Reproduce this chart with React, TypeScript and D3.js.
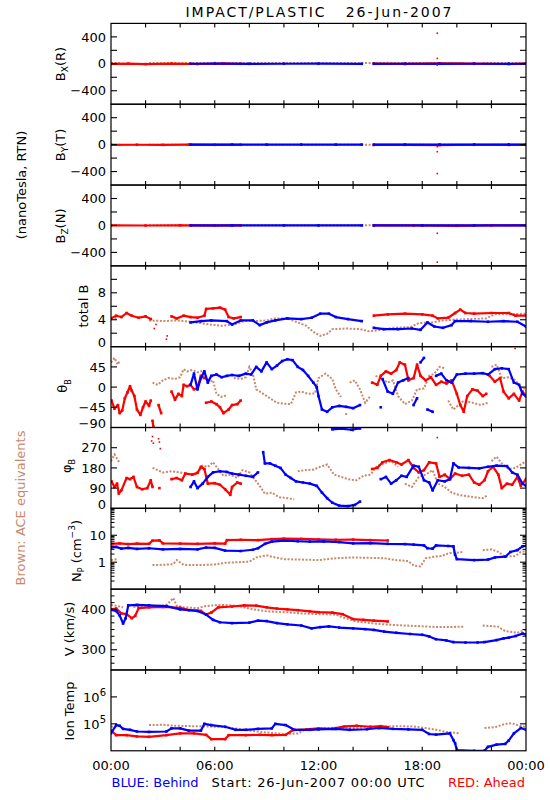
import React from 'react';
import * as d3 from 'd3';

type P = [number, number] | null;

const RED = '#ff0000';
const BLUE = '#0000ff';
const BROWN = '#c8896b';
const FONT = 'DejaVu Sans, sans-serif';

// ---------- axis ticks / labels ----------
const xTickHours = [0, 2, 4, 6, 8, 10, 12, 14, 16, 18, 20, 22, 24];
const xLabelHours = [0, 6, 12, 18, 24];
const xLabelTexts = ['00:00', '06:00', '12:00', '18:00', '00:00'];

// ---------- B components (nT, RTN) ----------
const bxRed: P[] = [[0, -2], [1, 3], [2, -4], [3.5, 2], [5, -3], [6.5, 4], [7.5, 1], null, [15.2, 4], [17, -2], [19, 5], [21, 2], [23, -3], [24, 3]];
const bxBlue: P[] = [[4.6, 1], [6, 2], [8, 0], [10, 1], [12, 2], [14.5, 0], null, [15.2, 0], [17, 1], [19, 0], [21, 1], [23, 0], [24, 1]];
const bxBrown: P[] = [[0, 12], [0.5, 14], null, [2.2, 12], [4, 10], [6, 14], [8, 12], [10, 13], [12, 11], [14, 12], [16, 14], [18, 12], [20.4, 13], null, [21.5, 12], [24, 13]];
const bxDots: P[] = [[18.87, 455], [18.87, 80], [18.87, -20]];

const byRed: P[] = [[0, -3], [1.5, -2], [3, -4], [4.5, -1], [6, -3], [7.5, -2], null, [15.2, -5], [17, -3], [19, -6], [21, -2], [23, -4], [24, -3]];
const byBlue: P[] = [[4.6, 0], [7, 1], [9, 0], [11, 1], [13, 0], [14.5, 1], null, [15.2, 0], [17, 0], [19, 1], [21, 0], [23, 1], [24, 0]];
const byBrown: P[] = [[0, -2], [0.5, -1], null, [2.2, -2], [5, -1], [8, -2], [11, -1], [14, -2], [17, -1], [20.4, -3], null, [21.5, -4], [24, -2]];
const byDots: P[] = [[18.87, -30], [18.87, -105], [18.87, -430]];

const bzRed: P[] = [[0, 1], [2, -1], [4, 2], [6, -2], [7.5, 1], null, [15.2, 2], [17.5, -1], [20, -6], [22, 1], [24, 2]];
const bzBlue: P[] = [[4.6, 0], [7, 0], [10, 1], [12, 0], [14.5, 0], null, [15.2, 0], [18, 1], [21, 0], [24, 0]];
const bzBrown: P[] = [[0, 3], [0.5, 2], null, [2.2, 3], [6, 2], [10, 3], [14, 2], [18, 3], [20.4, 2], null, [21.5, 3], [24, 2]];
const bzDots: P[] = [[18.87, -117], [18.87, -545]];

// ---------- total B (nT) ----------
const totalBRed: P[] = [[0, 4.2], [0.3, 4.6], [0.6, 4.4], [0.9, 5.0], [1.2, 4.6], [1.6, 4.3], [2.0, 4.5], [2.3, 4.1], null,
  [3.5, 4.5], [3.8, 4.2], [4.2, 4.6], [4.6, 4.4], [5.0, 4.3], [5.4, 4.6], [5.5, 5.6], [5.9, 5.7], [6.3, 5.8], [6.6, 5.5], [6.8, 4.4], [7.1, 4.2], [7.5, 4.4], null,
  [15.2, 4.6], [16.0, 4.8], [17.0, 4.9], [18.0, 4.8], [18.6, 4.6], [18.9, 4.2], [19.5, 4.3], [19.9, 5.0], [20.2, 5.5], [20.5, 5.0], [21.0, 4.9], [22.0, 5.0], [23.0, 5.0], [23.4, 4.6], [24, 4.6]];
const totalBRedDots: P[] = [[2.5, 2.7], [2.6, 3.3], [3.2, 1.1], [3.25, 1.6]];
const totalBBlue: P[] = [[4.6, 3.6], [5.2, 3.8], [5.8, 3.9], [6.7, 3.8], [7.0, 3.3], [7.5, 3.9], [8.2, 3.9], [8.6, 3.2], [9.0, 3.6], [9.5, 3.9], [10.2, 4.2], [11.0, 4.1], [11.6, 4.3], [12.1, 4.9], [12.6, 4.9], [13.0, 4.4], [13.7, 4.1], [14.5, 3.8], null,
  [15.2, 2.8], [15.8, 2.6], [16.6, 2.6], [17.4, 2.7], [17.9, 2.5], [18.3, 3.6], [18.7, 3.0], [19.2, 2.8], [19.7, 3.2], [19.9, 3.8], [20.8, 3.8], [21.8, 3.7], [22.7, 3.8], [23.5, 3.7], [24, 3.0]];
const totalBBrown: P[] = [[0, 4.3], [0.4, 4.2], null, [2.2, 3.9], [3.0, 3.8], [3.8, 3.9], [4.6, 3.7], [5.2, 3.5], [5.7, 3.3], [6.4, 3.1], [7.1, 3.3], [7.7, 3.8], [8.4, 3.8], [9.0, 3.9], [9.5, 4.2], [10.2, 4.2], [10.8, 3.6], [11.3, 3.1], [11.7, 2.2], [12.1, 1.6], [12.5, 1.9], [12.8, 2.6], [13.6, 2.7], [14.4, 2.6], [14.9, 2.3], [15.4, 2.4], [16.3, 2.8], [17.3, 2.9], [17.8, 3.5], [18.6, 3.6], [19.2, 3.9], [19.8, 4.0], [20.7, 4.1], [21.7, 4.2], [22.2, 4.8], [23.0, 4.8], [24, 4.9]];

// ---------- theta_B (deg) ----------
const thetaRed: P[] = [[0.03, -30], [0.2, -48], [0.4, -40], [0.5, -58], [0.65, -52], [0.8, -25], [0.95, -12], [1.1, 2], [1.2, -8], [1.35, -20], [1.5, -50], [1.7, -62], [1.85, -45], [2.0, -32], [2.2, -42], [2.3, -30], null,
  [2.4, -75], [2.45, -88], null, [2.75, -40], [2.9, -58], null,
  [3.5, -10], [3.7, -28], [3.9, -15], [4.1, -20], [4.2, 5], [4.4, 2], [4.6, 5], [4.8, -5], [5.0, -2], [5.2, 25], [5.4, 20], [5.5, -35], [5.8, -32], [6.1, -38], [6.3, -45], [6.5, -58], [6.8, -50], [7.0, -40], [7.3, -38], [7.5, -30], null,
  [15.1, 10], [15.4, 5], [15.6, 25], [15.9, 35], [16.2, 30], [16.5, 38], [16.7, 55], [17.0, 50], [17.2, 15], [17.5, 20], [17.7, 50], [17.9, 25], [18.2, 15], [18.5, 22], [18.8, 5], [19.1, 12], [19.4, 8], [19.7, 15], [20.0, -15], [20.2, -40], [20.4, -55], [20.6, -20], [20.9, -5], [21.2, -8], [21.5, -20], [21.7, -15], [21.9, 25], [22.2, 12], [22.5, 20], [22.7, -10], [23.0, -25], [23.3, -15], [23.6, -30], [23.8, -10], [24, -20]];
const thetaRedDots: P[] = [[23.37, 86]];
const thetaBlue: P[] = [[4.6, 5], [4.8, 30], [5.0, -5], [5.2, 20], [5.4, 35], [5.6, 10], [5.8, 25], [6.1, 28], [6.4, 22], [6.7, 25], [7.0, 27], [7.4, 25], [7.8, 30], [8.1, 28], [8.4, 45], [8.7, 35], [9.0, 55], [9.3, 40], [9.6, 48], [9.9, 58], [10.2, 62], [10.5, 60], [10.8, 45], [11.1, 38], [11.4, 25], [11.7, 10], [11.9, 0], [12.0, -20], [12.2, -50], [12.5, -55], [12.8, -45], [13.2, -42], [13.6, -44], [14.0, -47], [14.4, -40], null,
  [15.6, -45], [15.7, 18], [16.0, -10], [16.3, -15], [16.6, 10], [16.9, 15], [17.2, 20], [17.5, -40], [17.7, -25], [17.9, 55], [18.1, 65], [18.3, -50], [18.6, -55], [18.8, 25], [19.1, 30], [19.4, 15], [19.7, 10], [20.0, 28], [20.5, 30], [21.0, 30], [21.5, 31], [21.8, 28], [22.2, 40], [22.6, 42], [23.0, 40], [23.3, 10], [23.6, 5], [23.8, -15], [24, -20]];
const thetaBrown: P[] = [[0.0, 55], [0.2, 65], [0.4, 50], [0.5, 60], null,
  [2.4, 10], [2.7, 5], [3.0, 15], [3.3, 20], [3.7, 18], [4.0, 22], [4.2, 40], [4.4, 35], [4.7, 38], [5.0, 33], [5.3, 36], [5.6, 10], [5.9, 15], [6.1, -15], [6.4, -22], [6.7, -18], [7.1, 20], [7.5, 18], [7.8, 22], [8.0, 45], [8.2, 30], [8.4, -5], [8.8, -15], [9.2, -25], [9.6, -35], [10.0, -37], [10.4, -38], [10.7, -12], [11.0, -10], [11.4, -15], [11.8, -14], [12.0, 20], [12.4, 30], [12.8, 18], [13.0, -5], [13.3, -22], [13.6, -60], [13.8, 10], [14.1, 15], [14.4, -5], [14.7, -35], [15.0, -20], [15.3, 25], [15.6, 20], [16.0, 10], [16.3, 15], [16.6, -20], [17.0, -38], [17.4, -30], [17.7, -5], [18.1, -3], [18.4, 25], [18.7, 30], [19.0, 45], [19.3, 42], [19.5, -30], [19.8, -50], [20.1, -40], [20.4, -30], [20.9, -35], [21.4, -40], [21.8, -35], [22.0, 45], [22.3, 50], [22.6, 20], [23.0, 22], [23.4, 15], [23.8, -5], [24, 0]];

// ---------- phi_B (deg) ----------
const phiRed: P[] = [[0.03, 120], [0.2, 95], [0.35, 110], [0.45, 66], [0.6, 80], [0.9, 135], [1.1, 130], [1.3, 140], [1.5, 95], [1.8, 85], [2.1, 90], [2.3, 125], [2.4, 95], null, [2.8, 90], null,
  [3.5, 130], [3.8, 135], [4.1, 125], [4.3, 155], [4.7, 150], [5.0, 158], [5.2, 185], [5.4, 175], [5.6, 110], [6.0, 112], [6.3, 105], [6.6, 85], [6.9, 60], [7.0, 95], [7.3, 115], [7.5, 110], null,
  [15.1, 175], [15.4, 180], [15.7, 205], [16.1, 215], [16.5, 205], [16.8, 195], [17.2, 215], [17.5, 180], [17.8, 160], [18.1, 170], [18.4, 205], [18.8, 200], [19.0, 140], [19.3, 150], [19.6, 130], [19.9, 155], [20.3, 145], [20.7, 150], [21.0, 115], [21.3, 105], [21.6, 125], [21.8, 165], [22.1, 185], [22.4, 150], [22.6, 90], [22.9, 110], [23.2, 105], [23.5, 140], [23.7, 100], [24, 130]];
const phiRedDots: P[] = [[2.35, 300], [2.4, 320], [2.45, 290], [2.75, 310], [2.8, 295], [2.85, 266], [18.87, 315]];
const phiBlue: P[] = [[4.6, 95], [4.8, 120], [5.0, 90], [5.3, 110], [5.6, 140], [5.9, 160], [6.3, 165], [6.7, 162], [7.0, 155], [7.4, 150], [7.8, 145], [8.2, 140], [8.5, 160], [8.8, 250], [8.9, 200], [9.2, 200], [9.5, 190], [9.8, 180], [10.1, 150], [10.4, 135], [10.7, 120], [11.1, 115], [11.5, 110], [11.9, 100], [12.2, 70], [12.5, 45], [12.8, 25], [13.2, 12], [13.7, 10], [14.1, 15], [14.4, 30], null,
  [15.6, 130], [15.9, 140], [16.2, 110], [16.5, 125], [16.8, 145], [17.1, 140], [17.5, 190], [17.8, 185], [18.1, 125], [18.4, 115], [18.6, 80], [18.9, 125], [19.3, 120], [19.6, 130], [19.8, 200], [20.1, 182], [20.7, 180], [21.3, 178], [21.8, 185], [22.3, 190], [22.9, 188], [23.2, 160], [23.5, 150], [23.8, 110], [24, 100]];
const phiBlueWrap: P[] = [[12.8, 352], [13.3, 355], [13.9, 350], [14.4, 356]];
const phiBrown: P[] = [[0.0, 210], [0.2, 240], [0.4, 215], [0.5, 200], null,
  [2.4, 180], [2.7, 170], [3.0, 160], [3.5, 165], [4.0, 160], [4.6, 150], [5.0, 155], [5.3, 190], [5.6, 185], [5.9, 205], [6.2, 175], [6.5, 145], [6.9, 150], [7.3, 135], [7.6, 170], [8.0, 160], [8.3, 130], [8.6, 100], [8.9, 65], [9.3, 70], [9.7, 50], [10.2, 45], [10.6, 40], [10.8, 165], [11.2, 170], [11.7, 172], [12.1, 185], [12.5, 195], [12.9, 150], [13.3, 140], [13.7, 130], [14.2, 125], [14.6, 145], [15.0, 150], [15.4, 190], [15.8, 200], [16.2, 210], [16.6, 185], [17.0, 110], [17.4, 95], [17.8, 140], [18.2, 150], [18.6, 170], [18.9, 110], [19.3, 95], [19.7, 70], [20.1, 60], [20.5, 55], [21.0, 50], [21.5, 45], [21.8, 60], [22.0, 210], [22.3, 230], [22.6, 200], [23.0, 175], [23.4, 180], [23.8, 200], [24, 210]];

// ---------- proton density (cm^-3) ----------
const npRed: P[] = [[0, 4.8], [0.5, 5.0], [1.0, 4.7], [1.5, 4.9], [2.2, 4.8], [2.4, 6.3], [2.8, 6.5], [3.0, 5.0], [4.0, 4.9], [5.0, 4.8], [6.0, 5.0], [6.6, 4.9], [6.7, 6.6], [7.5, 6.8], [8.5, 6.6], [9.3, 7.2], [10.0, 7.5], [11.0, 7.3], [12.0, 7.0], [13.0, 6.8], [14.0, 6.9], [15.0, 6.6], [16.0, 6.4]];
const npBlue: P[] = [[0, 3.5], [0.3, 3.7], [0.6, 3.2], [1.0, 3.4], [1.5, 3.1], [2.2, 3.3], [3.0, 3.0], [4.0, 3.1], [5.0, 3.0], [5.5, 3.5], [6.0, 3.4], [6.6, 2.7], [7.5, 2.6], [8.2, 2.9], [8.5, 3.3], [8.9, 4.8], [9.3, 5.8], [10.0, 6.3], [10.8, 6.0], [11.5, 5.8], [12.3, 5.9], [13.2, 5.6], [14.0, 5.0], [15.0, 5.1], [16.0, 4.8], [17.0, 4.7], [17.5, 4.5], [18.1, 4.2], [18.3, 3.3], [18.6, 3.2], [18.8, 4.2], [19.5, 4.0], [19.8, 3.9], [19.9, 1.9], [20.0, 1.3], [21.0, 1.2], [21.8, 1.25], [22.2, 1.5], [22.8, 1.6], [23.1, 2.4], [23.5, 2.8], [23.8, 3.9], [24, 4.0]];
const npBrown: P[] = [[0, 1.2], [0.4, 1.3], null, [2.4, 0.78], [3.0, 0.8], [3.6, 0.85], [3.8, 1.2], [4.2, 0.8], [5.0, 0.78], [6.0, 0.82], [6.6, 0.95], [7.4, 1.0], [8.0, 1.05], [8.4, 1.5], [9.0, 1.8], [9.3, 1.6], [10.0, 1.3], [11.0, 1.25], [12.0, 1.2], [13.0, 1.4], [14.0, 1.5], [15.0, 1.45], [15.8, 1.4], [16.5, 1.2], [17.2, 1.1], [17.5, 0.75], [17.9, 0.7], [18.2, 1.4], [18.7, 1.6], [19.1, 1.7], [19.6, 2.2], [20.2, 2.3], [20.4, 2.5], null, [21.5, 2.8], [22.0, 3.0], [22.4, 2.4], [22.8, 1.6], [23.4, 1.7], [23.7, 2.4], [24, 2.6]];

// ---------- bulk speed (km/s) ----------
const vRed: P[] = [[0, 400], [0.3, 402], [0.6, 390], [0.9, 388], [1.2, 378], [1.4, 384], [1.6, 403], [2.2, 405], [3.0, 406], [4.0, 404], [4.5, 398], [5.2, 396], [5.5, 387], [5.8, 392], [6.2, 405], [7.0, 407], [7.7, 410], [8.4, 409], [9.0, 405], [9.6, 402], [10.2, 400], [10.8, 398], [11.5, 395], [12.0, 393], [12.8, 392], [13.4, 388], [14.0, 376], [14.6, 374], [15.2, 372], [16.0, 370]];
const vBlue: P[] = [[0, 399], [0.3, 396], [0.5, 385], [0.7, 365], [0.85, 378], [1.0, 410], [1.5, 411], [2.2, 410], [3.2, 408], [4.0, 400], [5.0, 396], [5.5, 387], [5.9, 374], [6.3, 368], [7.0, 366], [8.0, 367], [8.5, 372], [9.0, 371], [9.6, 366], [10.2, 363], [11.0, 360], [11.6, 353], [12.1, 356], [12.6, 358], [13.2, 355], [14.0, 353], [14.7, 351], [15.2, 349], [15.8, 345], [16.5, 342], [17.3, 339], [18.0, 337], [18.4, 333], [18.8, 326], [19.4, 323], [19.8, 319], [20.5, 318], [21.2, 318], [21.6, 319], [22.3, 324], [22.7, 328], [23.0, 330], [23.4, 334], [23.8, 340], [24, 338]];
const vBrown: P[] = [[0, 411], [0.4, 408], [0.7, 405], null, [1.3, 406], [2.2, 407], [3.2, 410], [3.6, 428], [3.8, 409], [4.2, 405], [5.0, 403], [5.5, 408], [6.2, 411], [7.0, 410], [7.6, 406], [8.2, 400], [9.0, 395], [10.1, 393], [11.0, 390], [12.0, 388], [13.0, 387], [13.4, 380], [14.2, 370], [15.0, 366], [16.0, 362], [17.0, 360], [18.0, 358], [19.0, 356], [20.4, 357], null, [21.5, 360], [22.4, 357], [22.8, 346], [23.5, 342], [24, 350]];

// ---------- ion temperature (K) ----------
const tRed: P[] = [[0, 5.6e4], [0.3, 3.8e4], [0.9, 3.8e4], [1.5, 3.4e4], [2.2, 3.3e4], [3.2, 3.8e4], [4.0, 4.4e4], [4.8, 4.4e4], [5.5, 3.9e4], [5.8, 2.7e4], [6.6, 2.7e4], [6.8, 3.8e4], [7.8, 3.8e4], [8.6, 3.9e4], [9.3, 3.8e4], [10.1, 3.9e4], [10.5, 5.8e4], [11.3, 6.2e4], [12.0, 6.8e4], [12.8, 6.5e4], [13.5, 8.0e4], [14.2, 8.5e4], [15.0, 7.8e4], [15.6, 8.2e4], [16.0, 7.5e4]];
const tBlue: P[] = [[0, 4.5e4], [0.3, 9e4], [0.5, 8.5e4], [0.7, 6.5e4], [1.1, 6e4], [1.5, 5.2e4], [2.2, 5e4], [3.2, 5.2e4], [3.5, 6.8e4], [4.0, 6.8e4], [4.5, 5.6e4], [5.2, 5.6e4], [5.4, 1e5], [5.8, 9e4], [6.6, 7.8e4], [7.2, 6e4], [7.8, 6e4], [8.5, 6.5e4], [9.3, 6.8e4], [9.5, 1e5], [10.1, 9e4], [10.6, 6e4], [11.5, 6e4], [12.0, 6.2e4], [13.0, 6.5e4], [13.8, 6e4], [14.8, 6.3e4], [15.5, 7e4], [16.3, 6.5e4], [17.2, 6.2e4], [18.0, 6e4], [18.4, 4.2e4], [18.8, 4e4], [19.6, 4.4e4], [19.8, 2.5e4], [19.9, 1.9e4], [20.0, 1.05e4], [21.0, 1.0e4], [21.6, 1.0e4], [21.8, 1.4e4], [22.3, 1.7e4], [22.8, 1.8e4], [23.0, 2.4e4], [23.3, 4.4e4], [23.7, 7e4], [24, 6e4]];
const tBrown: P[] = [[0, 8e4], [0.3, 7.5e4], null, [2.2, 9e4], [3.0, 9.2e4], [3.7, 8.5e4], [4.7, 8.2e4], [5.6, 8e4], [6.6, 7.5e4], [7.2, 6.7e4], [7.8, 6e4], [8.6, 5e4], [9.3, 4.6e4], [10.0, 4.2e4], [10.8, 4.4e4], [11.2, 6e4], [11.8, 6.5e4], [12.5, 7e4], [13.2, 7.2e4], [14.0, 7e4], [15.0, 7.5e4], [15.8, 8e4], [16.8, 8.2e4], [17.6, 7.8e4], [18.2, 7e4], [18.8, 6e4], [19.4, 5e4], [20.1, 4.5e4], null, [21.6, 7e4], [22.2, 7.5e4], [22.8, 1e5], [23.2, 1.05e5], [23.6, 8.5e4], [24, 7.5e4]];

// ---------- layout ----------
const W = 550, HGT = 800;
const L = 111, R = 526;
const TOP = 23.4, PH = 80.82;
const MAX_JUMP = 16; // px: larger jumps between samples are left unconnected (scatter look)
const x = d3.scaleLinear().domain([0, 24]).range([L, R]);

type Series = { data: P[]; color: string; kind: 'line' | 'brown' | 'dots' };
type Panel = {
  domain: [number, number];
  log?: boolean;
  majors: number[];
  minors: number[];
  labels: { v: number; t: React.ReactNode }[];
  series: Series[];
};

const sixths = d3.range(-8, 3).map(k => 400 + (k * 100) / 6).filter(v => Math.abs(v - 300) > 1 && Math.abs(v - 400) > 1);
const logMinors = (decades: number[]) => decades.flatMap(d => d3.range(2, 10).map(k => k * d));

const panels: Panel[] = [
  { domain: [-600, 600], majors: [-400, -200, 0, 200, 400], minors: [], labels: [{ v: 400, t: '400' }, { v: 0, t: '0' }, { v: -400, t: '\u2212400' }],
    series: [{ data: bxBrown, color: BROWN, kind: 'brown' }, { data: bxRed, color: RED, kind: 'line' }, { data: bxBlue, color: BLUE, kind: 'line' }, { data: bxDots, color: RED, kind: 'dots' }] },
  { domain: [-600, 600], majors: [-400, -200, 0, 200, 400], minors: [], labels: [{ v: 400, t: '400' }, { v: 0, t: '0' }, { v: -400, t: '\u2212400' }],
    series: [{ data: byBrown, color: BROWN, kind: 'brown' }, { data: byRed, color: RED, kind: 'line' }, { data: byBlue, color: BLUE, kind: 'line' }, { data: byDots, color: RED, kind: 'dots' }] },
  { domain: [-600, 600], majors: [-400, -200, 0, 200, 400], minors: [], labels: [{ v: 400, t: '400' }, { v: 0, t: '0' }, { v: -400, t: '\u2212400' }],
    series: [{ data: bzBrown, color: BROWN, kind: 'brown' }, { data: bzRed, color: RED, kind: 'line' }, { data: bzBlue, color: BLUE, kind: 'line' }, { data: bzDots, color: RED, kind: 'dots' }] },
  { domain: [0, 12], majors: [2, 4, 6, 8, 10], minors: [], labels: [{ v: 8, t: '8' }, { v: 4, t: '4' }, { v: 0, t: '0' }],
    series: [{ data: totalBBrown, color: BROWN, kind: 'brown' }, { data: totalBRed, color: RED, kind: 'line' }, { data: totalBBlue, color: BLUE, kind: 'line' }, { data: totalBRedDots, color: RED, kind: 'dots' }] },
  { domain: [-90, 90], majors: [-45, 0, 45], minors: [], labels: [{ v: 45, t: '45' }, { v: 0, t: '0' }, { v: -45, t: '\u221245' }, { v: -90, t: '\u221290' }],
    series: [{ data: thetaBrown, color: BROWN, kind: 'brown' }, { data: thetaRed, color: RED, kind: 'line' }, { data: thetaBlue, color: BLUE, kind: 'line' }, { data: thetaRedDots, color: RED, kind: 'dots' }] },
  { domain: [0, 360], majors: [90, 180, 270], minors: [], labels: [{ v: 270, t: '270' }, { v: 180, t: '180' }, { v: 90, t: '90' }, { v: 0, t: '0' }],
    series: [{ data: phiBrown, color: BROWN, kind: 'brown' }, { data: phiRed, color: RED, kind: 'line' }, { data: phiBlue, color: BLUE, kind: 'line' }, { data: phiBlueWrap, color: BLUE, kind: 'line' }, { data: phiRedDots, color: RED, kind: 'dots' }] },
  { domain: [0.1, 100], log: true, majors: [1, 10], minors: logMinors([0.1, 1, 10]), labels: [{ v: 10, t: '10' }, { v: 1, t: '1' }],
    series: [{ data: npBrown, color: BROWN, kind: 'brown' }, { data: npRed, color: RED, kind: 'line' }, { data: npBlue, color: BLUE, kind: 'line' }] },
  { domain: [250, 450], majors: [300, 400], minors: sixths, labels: [{ v: 400, t: '400' }, { v: 300, t: '300' }],
    series: [{ data: vBrown, color: BROWN, kind: 'brown' }, { data: vRed, color: RED, kind: 'line' }, { data: vBlue, color: BLUE, kind: 'line' }] },
  { domain: [1e4, 1e7], log: true, majors: [1e5, 1e6], minors: [],
    labels: [{ v: 1e6, t: <>10<tspan dy={-6} fontSize={10}>6</tspan></> }, { v: 1e5, t: <>10<tspan dy={-6} fontSize={10}>5</tspan></> }],
    series: [{ data: tBrown, color: BROWN, kind: 'brown' }, { data: tRed, color: RED, kind: 'line' }, { data: tBlue, color: BLUE, kind: 'line' }] },
];

const yLabels: React.ReactNode[] = [
  <text key="l0" transform="translate(65,64) rotate(-90)" textAnchor="middle">B<tspan fontSize={9} dy={3}>X</tspan><tspan dy={-3}>(R)</tspan></text>,
  <text key="l1" transform="translate(65,145) rotate(-90)" textAnchor="middle">B<tspan fontSize={9} dy={3}>Y</tspan><tspan dy={-3}>(T)</tspan></text>,
  <text key="l2" transform="translate(65,226) rotate(-90)" textAnchor="middle">B<tspan fontSize={9} dy={3}>Z</tspan><tspan dy={-3}>(N)</tspan></text>,
  <text key="l3" transform="translate(88,306) rotate(-90)" textAnchor="middle">total B</text>,
  <text key="l4" transform="translate(67,386) rotate(-90)" textAnchor="middle">{'\u03b8'}<tspan fontSize={8} dy={4}>B</tspan></text>,
  <text key="l5" transform="translate(71,466) rotate(-90)" textAnchor="middle">{'\u03c6'}<tspan fontSize={8} dy={4}>B</tspan></text>,
  <text key="l6" transform="translate(81,551) rotate(-90)" textAnchor="middle">N<tspan fontSize={8} dy={3}>P</tspan><tspan dy={-3}> (cm</tspan><tspan fontSize={9} dy={-6}>{'\u22123'}</tspan><tspan dy={6}>)</tspan></text>,
  <text key="l7" transform="translate(74,629) rotate(-90)" textAnchor="middle">V (km/s)</text>,
  <text key="l8" transform="translate(74,711) rotate(-90)" textAnchor="middle">Ion Temp</text>,
];

// split a series into connected runs: break at nulls and at big vertical jumps
function runs(data: P[], y: (v: number) => number): [number, number][][] {
  const out: [number, number][][] = [];
  let cur: [number, number][] = [];
  for (const d of data) {
    if (d === null) { if (cur.length) out.push(cur); cur = []; continue; }
    const pt: [number, number] = [x(d[0]), y(d[1])];
    if (cur.length && Math.abs(pt[1] - cur[cur.length - 1][1]) > MAX_JUMP) { out.push(cur); cur = []; }
    cur.push(pt);
  }
  if (cur.length) out.push(cur);
  return out;
}

const pxLine = d3.line<[number, number]>().x(d => d[0]).y(d => d[1]);

function PanelView({ p, i }: { p: Panel; i: number }) {
  const top = TOP + i * PH;
  const bot = top + PH;
  const y = p.log
    ? d3.scaleLog().domain(p.domain).range([bot, top])
    : d3.scaleLinear().domain(p.domain).range([bot, top]);
  const clipId = `clip${i}`;
  return (
    <g>
      <defs>
        <clipPath id={clipId}><rect x={L} y={top} width={R - L} height={PH} /></clipPath>
      </defs>
      <g clipPath={`url(#${clipId})`}>
        {p.series.map((s, k) => {
          if (s.kind === 'dots') {
            return <g key={k}>{s.data.filter(d => d).map((d, j) => <rect key={j} x={x(d![0]) - 0.8} y={y(d![1]) - 0.8} width={1.6} height={1.6} fill={s.color} />)}</g>;
          }
          const rs = runs(s.data, y);
          if (s.kind === 'brown') {
            return (
              <g key={k}>
                {rs.map((r, j) => r.length > 1
                  ? <path key={j} d={pxLine(r) || ''} fill="none" stroke={s.color} strokeWidth={2} strokeDasharray="2 1.6" />
                  : <rect key={j} x={r[0][0] - 1} y={r[0][1] - 1} width={2} height={2} fill={s.color} />)}
              </g>
            );
          }
          return (
            <g key={k}>
              {rs.map((r, j) => r.length > 1
                ? <path key={j} d={pxLine(r) || ''} fill="none" stroke={s.color} strokeWidth={2.2} strokeLinejoin="round" />
                : null)}
              {s.data.filter(d => d).map((d, j) => <rect key={'p' + j} x={x(d![0]) - 1.3} y={y(d![1]) - 1.3} width={2.6} height={2.6} fill={s.color} />)}
            </g>
          );
        })}
      </g>
      <rect x={L} y={top} width={R - L} height={PH} fill="none" stroke="#000" strokeWidth={1.2} />
      {xTickHours.slice(1, -1).map(h => (
        <g key={h}>
          <line x1={x(h)} x2={x(h)} y1={top} y2={top + 4} stroke="#000" strokeWidth={1.1} />
          <line x1={x(h)} x2={x(h)} y1={bot} y2={bot - 4} stroke="#000" strokeWidth={1.1} />
        </g>
      ))}
      {p.majors.map(v => (
        <g key={'M' + v}>
          <line x1={L} x2={L + 6} y1={y(v)} y2={y(v)} stroke="#000" strokeWidth={1.1} />
          <line x1={R} x2={R - 6} y1={y(v)} y2={y(v)} stroke="#000" strokeWidth={1.1} />
        </g>
      ))}
      {p.minors.map(v => (
        <g key={'m' + v}>
          <line x1={L} x2={L + 3.5} y1={y(v)} y2={y(v)} stroke="#000" strokeWidth={1} />
          <line x1={R} x2={R - 3.5} y1={y(v)} y2={y(v)} stroke="#000" strokeWidth={1} />
        </g>
      ))}
      {p.labels.map((lb, k) => {
        let yy = y(lb.v);
        if (Math.abs(yy - bot) < 1) yy = bot - 4;
        return <text key={k} x={106} y={yy} dy="0.36em" textAnchor="end">{lb.t}</text>;
      })}
    </g>
  );
}

export default function App() {
  return (
    <div style={{ position: 'absolute', left: 0, top: 0, width: W, height: HGT, background: '#fff' }}>
      <svg width={W} height={HGT} viewBox={`0 0 ${W} ${HGT}`} fontFamily={FONT} fontSize={13} fill="#000">
        <rect x={0} y={0} width={W} height={HGT} fill="#fff" />
        <text x={318.5} y={17} textAnchor="middle" fontSize={14} textLength={266} lengthAdjust="spacing" style={{ whiteSpace: 'pre' }}>IMPACT/PLASTIC   26-Jun-2007</text>
        {panels.map((p, i) => <PanelView key={i} p={p} i={i} />)}
        {yLabels}
        <text transform="translate(26,185) rotate(-90)" textAnchor="middle">(nanoTesla,  RTN)</text>
        <text transform="translate(25,508) rotate(-90)" textAnchor="middle" fill={BROWN}>Brown: ACE equivalents</text>
        {xLabelHours.map((h, k) => (
          <text key={k} x={x(h)} y={770} textAnchor="middle">{xLabelTexts[k]}</text>
        ))}
        <text x={111.5} y={787} fill={BLUE}>BLUE: Behind</text>
        <text x={211.5} y={787} textLength={213} lengthAdjust="spacing" style={{ whiteSpace: 'pre' }}>Start: 26-Jun-2007 00:00 UTC</text>
        <text x={525} y={787} textAnchor="end" fill={RED}>RED: Ahead</text>
      </svg>
    </div>
  );
}
